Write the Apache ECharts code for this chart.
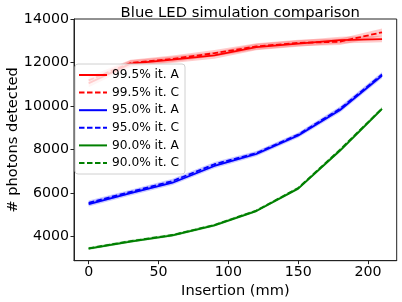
<!DOCTYPE html>
<html><head><meta charset="utf-8">
<script src="https://cdn.jsdelivr.net/npm/echarts@6/dist/echarts.min.js"></script>
<style>html,body{margin:0;padding:0;background:#fff}#c{width:402px;height:302px}</style>
</head><body><div id="c"></div>
<script>
const insertion = [0, 30, 60, 90, 120, 150, 180, 210];
const xTicks = [0, 50, 100, 150, 200];
const yTicks = [4000, 6000, 8000, 10000, 12000, 14000];
const red995A = [11050, 11950, 12130, 12330, 12710, 12870, 13030, 13080];
const red995C = [11180, 11980, 12170, 12430, 12740, 12900, 12960, 13390];
const blue950A = [5500, 6000, 6480, 7250, 7800, 8650, 9820, 11400];
const blue950C = [5560, 6060, 6560, 7330, 7840, 8690, 9880, 11450];
const green900A = [3450, 3780, 4060, 4520, 5180, 6210, 7960, 9870];
const green900C = [3470, 3800, 4080, 4540, 5200, 6240, 8000, 9890];
const red995AErr = [180, 150, 150, 150, 150, 150, 150, 150];
const red995CErr = [180, 150, 150, 150, 150, 150, 150, 170];
const blue950AErr = [110, 100, 100, 100, 100, 100, 110, 120];
const blue950CErr = [110, 100, 100, 100, 100, 100, 110, 120];
const green900AErr = [60, 60, 60, 60, 60, 60, 70, 80];
const green900CErr = [60, 60, 60, 60, 60, 60, 70, 80];

const defs = [
  {name: '99.5% it. A', vals: red995A, err: red995AErr, color: '#ff0000', type: 'solid'},
  {name: '99.5% it. C', vals: red995C, err: red995CErr, color: '#ff0000', type: [5.5, 2.5]},
  {name: '95.0% it. A', vals: blue950A, err: blue950AErr, color: '#0000ff', type: 'solid'},
  {name: '95.0% it. C', vals: blue950C, err: blue950CErr, color: '#0000ff', type: [5.5, 2.5]},
  {name: '90.0% it. A', vals: green900A, err: green900AErr, color: '#008000', type: 'solid'},
  {name: '90.0% it. C', vals: green900C, err: green900CErr, color: '#008000', type: [5.5, 2.5]}
];
const series = [];
defs.forEach((d) => {
  const bandData = insertion.map((x, k) => [x, d.vals[k] - d.err[k], d.vals[k] + d.err[k]]);
  series.push({
    type: 'custom', silent: true, z: 1, clip: true,
    encode: {x: 0, y: [1, 2]},
    data: bandData,
    renderItem: function (params, api) {
      if (params.dataIndex !== 0) return null;
      const up = bandData.map(p => api.coord([p[0], p[2]]));
      const lo = bandData.map(p => api.coord([p[0], p[1]])).reverse();
      return {type: 'polygon', shape: {points: up.concat(lo)},
        style: {fill: d.color, opacity: 0.2}};
    }
  });
});
defs.forEach(d => {
  series.push({type: 'line', name: d.name, symbol: 'none', z: 3, color: d.color,
    lineStyle: {color: d.color, width: 1.8, type: d.type},
    data: insertion.map((x, k) => [x, d.vals[k]])});
});

const chart = echarts.init(document.getElementById('c'), null, {renderer: 'canvas'});
const font = 'DejaVu Sans';
chart.setOption({
  animation: false,
  backgroundColor: '#fff',
  title: {text: 'Blue LED simulation comparison', left: 235.3, textAlign: 'center', top: 1,
    textStyle: {fontFamily: font, fontSize: 14.8, fontWeight: 'normal', color: '#000'}},
  grid: {left: 74, top: 19, right: 5.3, bottom: 41.3, show: true, borderColor: '#222', borderWidth: 1,
    containLabel: false, outerBoundsMode: 'none'},
  legend: {
    data: defs.map(d => d.name), orient: 'vertical', left: 75, top: 64,
    padding: [4, 6, 4, 3], itemWidth: 28, itemHeight: 14, itemGap: 3.6,
    itemStyle: {opacity: 0},
    backgroundColor: 'rgba(255,255,255,0.8)', borderColor: '#d0d0d0', borderWidth: 1, borderRadius: 3,
    textStyle: {fontFamily: font, fontSize: 12.2, color: '#000', lineHeight: 14}
  },
  xAxis: {
    type: 'value', min: -10.5, max: 220.5,
    name: 'Insertion (mm)', nameLocation: 'middle', nameGap: 23, nameMoveOverlap: false,
    nameTextStyle: {fontFamily: font, fontSize: 14.6, color: '#000'},
    axisLine: {show: true, onZero: false, lineStyle: {color: '#222'}},
    axisTick: {show: true, length: 3.5, lineStyle: {color: '#222'}, customValues: xTicks},
    axisLabel: {fontFamily: font, fontSize: 14.2, color: '#000', margin: 5, customValues: xTicks,
      formatter: v => String(v)},
    splitLine: {show: false}
  },
  yAxis: {
    type: 'value', min: 2900, max: 14000,
    name: '# photons detected', nameLocation: 'middle', nameGap: 53, nameMoveOverlap: false,
    nameTextStyle: {fontFamily: font, fontSize: 14.6, color: '#000'},
    axisLine: {show: true, onZero: false, lineStyle: {color: '#222'}},
    axisTick: {show: true, length: 3.5, lineStyle: {color: '#222'}, customValues: yTicks},
    axisLabel: {fontFamily: font, fontSize: 14.2, color: '#000', margin: 5, customValues: yTicks,
      formatter: v => String(v)},
    splitLine: {show: false}
  },
  series: series
});
</script></body></html>
